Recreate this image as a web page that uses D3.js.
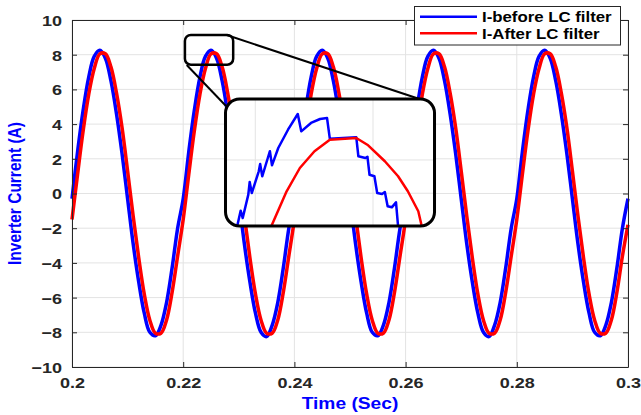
<!DOCTYPE html>
<html><head><meta charset="utf-8">
<script src="https://cdn.jsdelivr.net/npm/d3@7"></script>
<style>
html,body{margin:0;padding:0;background:#fff;}
svg{display:block;}
text{font-family:"Liberation Sans",Arial,sans-serif;font-weight:bold;}
</style></head>
<body><svg id="c" width="641" height="415"></svg>
<script>
// ---- data ----
const tStart = 0.2, tStep = 0.001;
const iBefore = [
 -0.3, 2.4, 4.8, 6.7, 7.9, 8.25, 7.8, 6.5, 4.6, 2.3, -0.3, -2.9, -5.1, -6.9, -8.0, -8.2, -7.6, -6.3, -4.3, -2.0,
 -0.3, 2.4, 4.8, 6.7, 7.9, 8.25, 7.8, 6.5, 4.6, 2.3, -0.3, -2.9, -5.1, -6.9, -8.0, -8.25, -7.6, -6.3, -4.3, -2.0,
 -0.3, 2.4, 4.8, 6.7, 7.9, 8.25, 7.8, 6.5, 4.6, 2.3, -0.3, -2.9, -5.1, -6.9, -8.0, -8.2, -7.6, -6.3, -4.3, -2.0,
 -0.3, 2.4, 4.8, 6.7, 7.9, 8.25, 7.8, 6.5, 4.6, 2.3, -0.3, -2.9, -5.1, -6.9, -8.0, -8.25, -7.6, -6.3, -4.3, -2.0,
 -0.3, 2.4, 4.8, 6.7, 7.9, 8.25, 7.8, 6.5, 4.6, 2.3, -0.3, -2.9, -5.1, -6.9, -8.0, -8.2, -7.6, -6.3, -4.3, -2.0,
 -0.3
];
const iAfter = [
 -1.5, 1.1, 3.6, 5.7, 7.2, 8.05, 8.05, 7.3, 5.8, 3.8, 1.3, -1.3, -3.7, -5.8, -7.3, -8.05, -8.05, -7.3, -5.7, -3.6,
 -1.5, 1.1, 3.6, 5.7, 7.2, 8.05, 8.05, 7.3, 5.8, 3.8, 1.3, -1.3, -3.7, -5.8, -7.3, -8.05, -8.05, -7.3, -5.7, -3.6,
 -1.5, 1.1, 3.6, 5.7, 7.2, 8.05, 8.05, 7.3, 5.8, 3.8, 1.3, -1.3, -3.7, -5.8, -7.3, -8.05, -8.05, -7.3, -5.7, -3.6,
 -1.5, 1.1, 3.6, 5.7, 7.2, 8.05, 8.05, 7.3, 5.8, 3.8, 1.3, -1.3, -3.7, -5.8, -7.3, -8.05, -8.05, -7.3, -5.7, -3.6,
 -1.5, 1.1, 3.6, 5.7, 7.2, 8.05, 8.05, 7.3, 5.8, 3.8, 1.3, -1.3, -3.7, -5.8, -7.3, -8.05, -8.05, -7.3, -5.7, -3.6,
 -1.8
];
// zoomed (inset) samples
const zoomBeforeT = [0.22376,0.22381,0.22384,0.22392,0.22394,0.22397,0.22407,0.22409,0.22412,0.22420,0.22423,0.22426,0.22435,0.22449,0.22463,0.22468,0.22482,0.22495,0.22505,0.22509,0.22547,0.22550,0.22560,0.22563,0.22566,0.22573,0.22577,0.22584,0.22588,0.22592,0.22598,0.22604,0.22607];
const zoomBeforeV = [7.406,7.540,7.477,7.678,7.787,7.692,7.879,7.941,7.836,7.993,8.051,7.930,8.079,8.236,8.371,8.222,8.294,8.328,8.337,8.159,8.171,8.008,7.993,8.004,7.849,7.836,7.692,7.684,7.701,7.578,7.569,7.612,7.406];
const zoomAfterT = [0.22425,0.22447,0.22466,0.22487,0.22509,0.22547,0.22564,0.22588,0.22607,0.22621,0.22636,0.22641];
const zoomAfterV = [7.406,7.707,7.907,8.051,8.150,8.165,8.102,7.965,7.836,7.707,7.535,7.406];
const xTicks = [0.2, 0.22, 0.24, 0.26, 0.28, 0.3];
const xTickLabels = ["0.2", "0.22", "0.24", "0.26", "0.28", "0.3"];
const yTicks = [-10, -8, -6, -4, -2, 0, 2, 4, 6, 8, 10];
const zoomXTicks = [0.22402, 0.22571];
const zoomYTicks = [7.690, 7.976];
const seriesNames = ["I-before LC filter", "I-After LC filter"];
const seriesColors = ["#0000ff", "#ff0000"];
const xTitle = "Time (Sec)", yTitle = "Inverter Current (A)";
// magnifier geometry in data units
const srcBox = {x0: 0.22031, x1: 0.22899, y0: 7.42, y1: 9.14};
const insetBox = {x0: 0.22761, x1: 0.26520, y0: -1.873, y1: 5.447};
const zoomDomainX = [0.2236, 0.2266], zoomDomainY = [7.4, 8.5];

// ---- drawing ----
const svg = d3.select("#c");
const L = 72, R = 628, T = 20, B = 367;
const x = d3.scaleLinear().domain([0.2, 0.3]).range([L, R]);
const y = d3.scaleLinear().domain([-10, 10]).range([B, T]);
const axisCol = "#262626", gridCol = "#e3e3e3";

// grid
const g = svg.append("g");
g.selectAll("line.gx").data(xTicks).join("line")
  .attr("x1", d => x(d)).attr("x2", d => x(d)).attr("y1", T).attr("y2", B)
  .attr("stroke", gridCol).attr("stroke-width", 1);
g.selectAll("line.gy").data(yTicks).join("line")
  .attr("y1", d => y(d)).attr("y2", d => y(d)).attr("x1", L).attr("x2", R)
  .attr("stroke", gridCol).attr("stroke-width", 1);

// series
const line = d3.line().x(d => x(d[0])).y(d => y(d[1])).curve(d3.curveCatmullRom.alpha(0.5));
const mk = arr => arr.map((v, i) => [tStart + i * tStep, v]);
svg.append("path").datum(mk(iBefore)).attr("d", line)
  .attr("fill", "none").attr("stroke", seriesColors[0]).attr("stroke-width", 3.5).attr("stroke-linejoin", "round");
svg.append("path").datum(mk(iAfter)).attr("d", line)
  .attr("fill", "none").attr("stroke", seriesColors[1]).attr("stroke-width", 3.5).attr("stroke-linejoin", "round");

// axes
function styleAxis(sel) {
  sel.selectAll("path.domain").attr("stroke", axisCol).attr("stroke-width", 1);
  sel.selectAll(".tick line").attr("stroke", axisCol);
  sel.selectAll("text").attr("fill", axisCol).style("font-size", "15px").style("font-family", "Liberation Sans, Arial, sans-serif").style("font-weight", "bold");
}
const ax = svg.append("g").attr("transform", `translate(0,${B})`)
  .call(d3.axisBottom(x).tickValues(xTicks).tickFormat((d, i) => xTickLabels[i]).tickSize(-5).tickSizeOuter(0).tickPadding(10));
styleAxis(ax);
ax.selectAll("text").attr("transform", "scale(1.2,1)");
const ay = svg.append("g").attr("transform", `translate(${L},0)`)
  .call(d3.axisLeft(y).tickValues(yTicks).tickSize(-5).tickSizeOuter(0));
styleAxis(ay);
ay.selectAll("text").attr("x", 0).attr("dy", "0.36em").attr("transform", "translate(-10,0) scale(1.2,1)");
const at = svg.append("g").attr("transform", `translate(0,${T})`)
  .call(d3.axisTop(x).tickValues(xTicks).tickSize(-5).tickSizeOuter(0).tickFormat(""));
styleAxis(at);
const ar = svg.append("g").attr("transform", `translate(${R},0)`)
  .call(d3.axisRight(y).tickValues(yTicks).tickSize(-5).tickSizeOuter(0).tickFormat(""));
styleAxis(ar);

// axis titles
svg.append("text").attr("transform", `translate(${(L + R) / 2},409) scale(1.2,1)`)
  .attr("text-anchor", "middle").attr("fill", "#0000ff").style("font-size", "16px").text(xTitle);
svg.append("text").attr("transform", `translate(21,${(T + B) / 2}) scale(1.2,1) rotate(-90)`)
  .attr("text-anchor", "middle").attr("fill", "#0000ff").style("font-size", "15.5px").text(yTitle);

// magnifier source box + connectors
svg.append("rect").attr("x", x(srcBox.x0)).attr("y", y(srcBox.y1))
  .attr("width", x(srcBox.x1) - x(srcBox.x0)).attr("height", y(srcBox.y0) - y(srcBox.y1))
  .attr("rx", 6).attr("fill", "none").attr("stroke", "#000").attr("stroke-width", 2.5);
svg.append("line").attr("x1", x(0.22782)).attr("y1", y(9.135)).attr("x2", x(0.26277)).attr("y2", y(5.418))
  .attr("stroke", "#000").attr("stroke-width", 2);
svg.append("line").attr("x1", x(0.22063)).attr("y1", y(7.406)).attr("x2", x(0.22770)).attr("y2", y(5.043))
  .attr("stroke", "#000").attr("stroke-width", 2);

// inset
const ix0 = x(insetBox.x0), ix1 = x(insetBox.x1), iy0 = y(insetBox.y1), iy1 = y(insetBox.y0);
const defs = svg.append("defs");
defs.append("clipPath").attr("id", "insetClip").append("rect")
  .attr("x", ix0).attr("y", iy0).attr("width", ix1 - ix0).attr("height", iy1 - iy0).attr("rx", 14);
svg.append("rect").attr("x", ix0).attr("y", iy0).attr("width", ix1 - ix0).attr("height", iy1 - iy0)
  .attr("rx", 14).attr("fill", "#fff");
const zx = d3.scaleLinear().domain(zoomDomainX).range([ix0 + 0.5, ix1 + 0.5]);
const zy = d3.scaleLinear().domain(zoomDomainY).range([iy1 + 1, iy0]);
const ig = svg.append("g").attr("clip-path", "url(#insetClip)");
ig.selectAll("line.zgx").data(zoomXTicks).join("line")
  .attr("x1", d => zx(d)).attr("x2", d => zx(d)).attr("y1", iy0).attr("y2", iy1)
  .attr("stroke", gridCol).attr("stroke-width", 1);
ig.selectAll("line.zgy").data(zoomYTicks).join("line")
  .attr("y1", d => zy(d)).attr("y2", d => zy(d)).attr("x1", ix0).attr("x2", ix1)
  .attr("stroke", gridCol).attr("stroke-width", 1);
const zline = d3.line().x(d => zx(d[0])).y(d => zy(d[1]));
ig.append("path").datum(zoomBeforeT.map((t, i) => [t, zoomBeforeV[i]])).attr("d", zline)
  .attr("fill", "none").attr("stroke", seriesColors[0]).attr("stroke-width", 2.5).attr("stroke-linejoin", "round");
ig.append("path").datum(zoomAfterT.map((t, i) => [t, zoomAfterV[i]])).attr("d", zline)
  .attr("fill", "none").attr("stroke", seriesColors[1]).attr("stroke-width", 2.5).attr("stroke-linejoin", "round");
svg.append("rect").attr("x", ix0).attr("y", iy0).attr("width", ix1 - ix0).attr("height", iy1 - iy0)
  .attr("rx", 14).attr("fill", "none").attr("stroke", "#000").attr("stroke-width", 3);

// legend
const lg = svg.append("g");
lg.append("rect").attr("x", 414.5).attr("y", 6.5).attr("width", 206).attr("height", 38.5)
  .attr("fill", "#fff").attr("stroke", axisCol).attr("stroke-width", 1);
seriesNames.forEach((name, i) => {
  const yy = 16.7 + i * 16.6;
  lg.append("line").attr("x1", 420).attr("x2", 477).attr("y1", yy).attr("y2", yy)
    .attr("stroke", seriesColors[i]).attr("stroke-width", 2.5);
  lg.append("text").attr("transform", `translate(482,${yy + 5.3}) scale(1.2,1)`)
    .attr("fill", "#000").style("font-size", "14px").text(name);
});
</script></body></html>
